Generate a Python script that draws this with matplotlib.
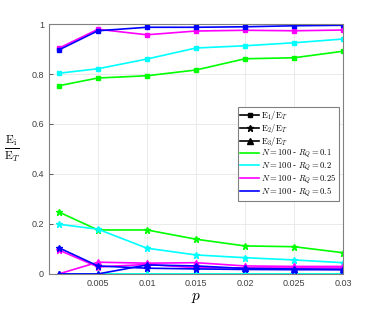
import matplotlib
matplotlib.use('Agg')
import matplotlib.pyplot as plt
from matplotlib.lines import Line2D

plt.rcParams['mathtext.fontset'] = 'cm'
plt.rcParams['font.family'] = ['Liberation Sans', 'DejaVu Sans']

# ===== data =====
p = [0.001, 0.005, 0.01, 0.015, 0.02, 0.025, 0.03]
rq_labels = ['0.1', '0.2', '0.25', '0.5']
colors = ['#00ff00', '#00ffff', '#ff00ff', '#0000ff']

# E1/ET (squares)
e1 = [
    [0.753, 0.784, 0.793, 0.816, 0.861, 0.865, 0.891],
    [0.803, 0.821, 0.860, 0.904, 0.913, 0.925, 0.940],
    [0.903, 0.979, 0.957, 0.972, 0.975, 0.973, 0.976],
    [0.896, 0.973, 0.987, 0.987, 0.989, 0.993, 0.995],
]
# E2/ET (stars)
e2 = [
    [0.248, 0.176, 0.176, 0.139, 0.112, 0.109, 0.085],
    [0.199, 0.179, 0.103, 0.076, 0.065, 0.056, 0.045],
    [0.096, 0.028, 0.038, 0.025, 0.024, 0.024, 0.024],
    [0.105, 0.032, 0.023, 0.020, 0.018, 0.017, 0.017],
]
# E3/ET (triangles)
e3 = [
    [0.0, 0.0, 0.0, 0.0, 0.0, 0.0, 0.0],
    [0.0, 0.0, 0.0, 0.0, 0.0, 0.0, 0.0],
    [0.0, 0.047, 0.043, 0.045, 0.032, 0.030, 0.030],
    [0.0, 0.0, 0.036, 0.032, 0.022, 0.020, 0.018],
]

fig = plt.figure(figsize=(3.79, 3.12), dpi=100)
ax = fig.add_axes([0.129, 0.122, 0.776, 0.801])

for i in range(4):
    c = colors[i]
    ax.plot(p, e1[i], marker='s', color=c, lw=1.2, ms=3.2)
    ax.plot(p, e2[i], marker='*', color=c, lw=1.2, ms=4.8)
    ax.plot(p, e3[i], marker='^', color=c, lw=1.2, ms=3.8)

ax.set_xlim(0, 0.03)
ax.set_ylim(0, 1)
ax.set_xticks([0.005, 0.01, 0.015, 0.02, 0.025, 0.03])
ax.set_xticklabels(['0.005', '0.01', '0.015', '0.02', '0.025', '0.03'])
ax.set_yticks([0, 0.2, 0.4, 0.6, 0.8, 1])
ax.set_yticklabels(['0', '0.2', '0.4', '0.6', '0.8', '1'])
ax.tick_params(direction='in', labelsize=6.5, colors='#404040', length=3, width=0.6)
ax.grid(True, color='#e6e6e6', lw=0.6)
for s in ax.spines.values():
    s.set_color('#808080')
    s.set_linewidth(0.8)

ax.set_xlabel('$p$', fontsize=11, labelpad=2)
ax.set_ylabel(r'$\frac{\mathrm{E_i}}{\mathrm{E}_T}$', fontsize=12, rotation=0, labelpad=14, va='center')

handles = [
    Line2D([], [], color='k', marker='s', ms=3.2, lw=1.2, label=r'$\mathrm{E}_1/\mathrm{E}_T$'),
    Line2D([], [], color='k', marker='*', ms=4.8, lw=1.2, label=r'$\mathrm{E}_2/\mathrm{E}_T$'),
    Line2D([], [], color='k', marker='^', ms=3.8, lw=1.2, label=r'$\mathrm{E}_3/\mathrm{E}_T$'),
]
for c, r in zip(colors, rq_labels):
    handles.append(Line2D([], [], color=c, lw=1.2, label=r'$N = 100$ - $R_Q = ' + r + '$'))

leg = ax.legend(handles=handles, loc='upper right', bbox_to_anchor=(0.985, 0.667),
                fontsize=6.2, handlelength=2.2, handletextpad=0.2, labelspacing=0.0,
                borderpad=0.25, borderaxespad=0, fancybox=False, framealpha=1)
leg.get_frame().set_edgecolor('#808080')
leg.get_frame().set_linewidth(0.8)

plt.savefig('out.png', dpi=100)
